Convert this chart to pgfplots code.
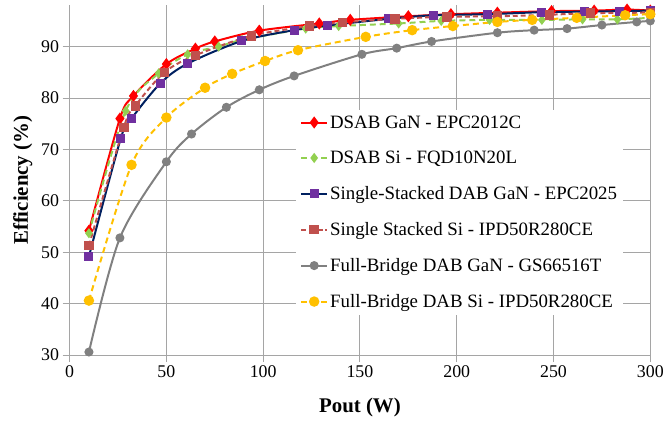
\documentclass[border={10bp 4bp 0bp 5bp}]{standalone}
\usepackage{fontspec}
\setmainfont{Liberation Serif}
\usepackage{pgfplots}
\pgfplotsset{compat=1.18}

\definecolor{cRed}{RGB}{255,0,0}
\definecolor{cGreen}{RGB}{146,208,80}
\definecolor{cNavy}{RGB}{0,32,96}
\definecolor{cPurple}{RGB}{112,48,160}
\definecolor{cBrown}{RGB}{192,80,77}
\definecolor{cGray}{RGB}{128,128,128}
\definecolor{cYellow}{RGB}{255,192,0}
\definecolor{cGrid}{RGB}{165,165,165}

\begin{document}
\begin{tikzpicture}
\begin{axis}[
    width=583bp, height=351bp, scale only axis,
    xmin=0, xmax=300, ymin=30, ymax=98,
    xtick={0,50,...,300}, ytick={30,40,...,90},
    axis lines=left, axis line style={-, draw=cGrid, line width=1bp},
    grid=major, major grid style={draw=cGrid, line width=1bp},
    tick align=outside, major tick length=7bp,
    tick style={draw=cGrid, line width=1bp},
    xtick pos=bottom, ytick pos=left,
    /pgf/number format/assume math mode=true,
    ticklabel style={font=\rmfamily\fontsize{18}{20}\selectfont},
    xlabel={\textbf{Pout (W)}}, ylabel={\textbf{Efficiency (\%)}},
    label style={font=\rmfamily\fontsize{21}{24}\selectfont},
    xlabel style={yshift=-14bp}, ylabel style={yshift=2bp},
    legend style={at={(axis cs:117,77.8)}, anchor=north west, draw=none, fill=white,
        font=\rmfamily\fontsize{19}{22}\selectfont, row sep=17.5bp, inner sep=4bp},
    legend cell align=left,
    legend image code/.code={\draw[mark repeat=2, mark phase=2, #1] plot coordinates {(0bp,0bp) (13bp,0bp) (26bp,0bp)};},
    every axis plot/.append style={smooth, line width=2bp},
]
\addplot[cRed, mark=diamond*, mark size=4.5bp, mark options={solid, fill=cRed}] coordinates {
(10,54.2) (26,76.0) (33,80.4) (50,86.6) (65,89.6) (75,91.0) (98,93.1) (129,94.5) (145,95.2) (175,95.9) (197,96.3) (221,96.6) (249,96.9) (271,97.0) (288,97.2) (300,97.0)};
\addlegendentry{DSAB GaN - EPC2012C}
\addplot[cGreen, dashed, dash pattern=on 6bp off 4bp, mark=diamond*, mark size=3.5bp, mark options={solid, fill=cGreen}] coordinates {
(10,53.7) (29,77.5) (46,84.8) (61,88.5) (77,90.0) (89,91.3) (122,93.5) (139,94.0) (170,94.5) (192,95.0) (217,95.2) (244,95.2) (265,95.3) (283,95.3) (300,95.6)};
\addlegendentry{DSAB Si - FQD10N20L}
\addplot[cNavy, mark=square*, mark size=3.5bp, mark options={solid, draw=cPurple, fill=cPurple}] coordinates {
(10,49.2) (26.5,72.2) (32,76.0) (47,82.9) (61,86.7) (89,91.1) (116,93.2) (133,94.1) (165,95.4) (188,96.1) (216,96.3) (244,96.7) (266,96.8) (284,96.9) (300,97.0)};
\addlegendentry{Single-Stacked DAB GaN - EPC2025}
\addplot[cBrown, dashed, dash pattern=on 5bp off 3bp, mark=square*, mark size=3.8bp, mark options={solid, fill=cBrown}] coordinates {
(10,51.3) (28,74.3) (34,78.5) (49,85.0) (65,88.3) (94,92.1) (124,94.0) (141,94.7) (168,95.4) (195,95.8) (221,95.9) (248,96.2) (269,96.5) (300,96.6)};
\addlegendentry{Single Stacked Si - IPD50R280CE}
\addplot[cGray, mark=*, mark size=3.5bp, mark options={solid, fill=cGray}] coordinates {
(10,30.6) (26,52.8) (50,67.6) (63,73.0) (81,78.2) (98,81.6) (116,84.3) (151,88.5) (169,89.7) (187,91.0) (221,92.7) (240,93.2) (257,93.5) (275,94.2) (293,94.8) (300,95.0)};
\addlegendentry{Full-Bridge DAB GaN - GS66516T}
\addplot[cYellow, dashed, dash pattern=on 6bp off 4bp, mark=*, mark size=4.2bp, mark options={solid, fill=cYellow}] coordinates {
(10,40.6) (32,67.0) (50,76.2) (70,82.0) (84,84.7) (101,87.2) (118,89.3) (153,91.9) (177,93.2) (198,94.0) (221,94.8) (239,95.2) (262,95.6) (287,96.1) (300,96.3)};
\addlegendentry{Full-Bridge DAB Si - IPD50R280CE}
\end{axis}
\end{tikzpicture}
\end{document}
